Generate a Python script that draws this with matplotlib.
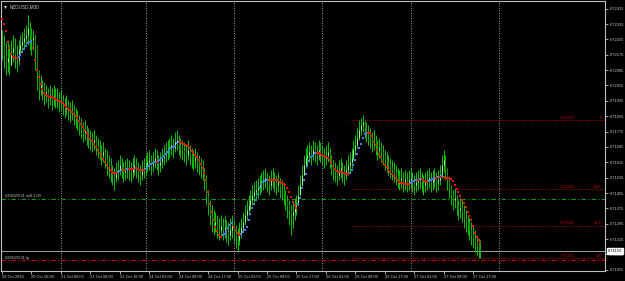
import matplotlib
matplotlib.use("Agg")
import matplotlib.pyplot as plt
import numpy as np

# NZDUSD M30, prices in points above 0.71000
BASE = 0.71
close_pts = [
    1226, 1174, 1137, 1158, 1122, 1189, 1210, 1174, 1148, 1200,
    1226, 1241, 1262, 1278, 1314, 1278, 1252, 1262, 1226, 1096,
    1002, 1017, 991, 965, 981, 950, 965, 939, 960, 939,
    950, 929, 939, 918, 898, 913, 887, 877, 887, 861,
    846, 835, 809, 794, 773, 783, 757, 742, 731, 721,
    731, 705, 690, 679, 653, 669, 638, 617, 601, 575,
    549, 534, 565, 575, 601, 586, 565, 575, 586, 575,
    565, 586, 601, 586, 565, 549, 575, 586, 601, 617,
    627, 601, 617, 638, 627, 601, 617, 638, 653, 669,
    679, 690, 705, 690, 721, 731, 705, 690, 679, 669,
    653, 679, 653, 638, 627, 638, 617, 601, 586, 575,
    523, 445, 393, 341, 315, 289, 305, 274, 263, 284,
    263, 274, 253, 237, 263, 284, 253, 232, 211, 237,
    274, 305, 341, 367, 393, 419, 445, 461, 471, 482,
    497, 513, 523, 534, 513, 497, 523, 534, 513, 497,
    513, 482, 471, 445, 419, 393, 367, 341, 357, 378,
    393, 445, 497, 549, 601, 638, 653, 669, 653, 679,
    669, 653, 679, 669, 653, 638, 653, 669, 638, 601,
    575, 565, 549, 575, 586, 565, 549, 575, 601, 617,
    638, 679, 705, 742, 783, 809, 825, 794, 773, 757,
    742, 721, 731, 705, 679, 690, 669, 653, 627, 617,
    601, 586, 575, 565, 549, 534, 523, 534, 513, 523,
    513, 523, 534, 513, 497, 513, 523, 534, 513, 497,
    513, 523, 534, 513, 523, 534, 513, 523, 549, 601,
    627, 575, 523, 482, 445, 419, 430, 393, 367, 378,
    357, 326, 305, 289, 263, 237, 222, 201, 185, 169, 153,
]
high_pts = [
    1304, 1278, 1241, 1252, 1226, 1252, 1278, 1262, 1226, 1252,
    1278, 1293, 1314, 1330, 1382, 1345, 1314, 1304, 1278, 1226,
    1096, 1070, 1044, 1033, 1017, 1002, 1017, 1002, 1017, 1002,
    1002, 981, 991, 965, 950, 965, 939, 929, 939, 913,
    898, 887, 861, 846, 825, 835, 809, 794, 783, 773,
    783, 757, 742, 731, 705, 721, 690, 679, 653, 638,
    601, 586, 617, 627, 653, 638, 617, 627, 638, 627,
    617, 638, 653, 638, 617, 601, 627, 638, 653, 669,
    679, 653, 669, 690, 679, 653, 669, 690, 705, 721,
    731, 742, 757, 742, 773, 783, 757, 742, 731, 721,
    705, 731, 705, 690, 679, 690, 669, 653, 638, 627,
    586, 549, 471, 419, 393, 367, 357, 341, 326, 341,
    326, 341, 315, 305, 326, 341, 315, 289, 274, 305,
    326, 357, 393, 419, 445, 471, 497, 513, 523, 534,
    549, 565, 575, 586, 565, 549, 575, 586, 565, 549,
    565, 534, 523, 497, 471, 445, 419, 393, 409, 430,
    445, 497, 549, 601, 653, 690, 705, 721, 705, 731,
    721, 705, 731, 721, 705, 690, 705, 721, 690, 653,
    627, 617, 601, 627, 638, 617, 601, 627, 653, 669,
    690, 731, 757, 794, 835, 846, 861, 835, 825, 809,
    794, 773, 783, 757, 731, 742, 721, 705, 679, 669,
    653, 638, 627, 617, 601, 586, 575, 586, 565, 575,
    565, 575, 586, 565, 549, 565, 575, 586, 565, 549,
    565, 575, 586, 565, 575, 586, 565, 575, 601, 653,
    679, 653, 586, 534, 497, 471, 482, 445, 419, 430,
    419, 393, 367, 341, 326, 305, 289, 263, 237, 222, 211,
]
low_pts = [
    1148, 1106, 1070, 1085, 1070, 1122, 1137, 1106, 1085, 1122,
    1174, 1189, 1210, 1226, 1226, 1200, 1174, 1200, 1096, 991,
    939, 965, 939, 913, 929, 898, 913, 887, 908, 898,
    898, 877, 887, 861, 846, 861, 835, 825, 835, 809,
    794, 783, 757, 742, 721, 731, 705, 690, 679, 669,
    679, 653, 638, 627, 601, 617, 586, 549, 534, 513,
    497, 471, 513, 523, 549, 534, 513, 523, 534, 523,
    513, 534, 549, 534, 513, 497, 523, 534, 549, 565,
    575, 549, 565, 586, 575, 549, 565, 586, 601, 617,
    627, 638, 653, 638, 669, 679, 653, 638, 627, 617,
    601, 627, 601, 586, 575, 586, 565, 549, 534, 523,
    471, 393, 341, 289, 253, 237, 253, 222, 211, 232,
    211, 222, 201, 185, 211, 222, 201, 169, 149, 185,
    222, 253, 289, 315, 341, 367, 393, 409, 419, 430,
    445, 461, 471, 482, 461, 445, 471, 482, 461, 445,
    461, 430, 419, 393, 367, 326, 289, 237, 274, 315,
    341, 393, 445, 497, 549, 586, 601, 617, 601, 627,
    617, 601, 627, 617, 601, 586, 601, 617, 586, 549,
    523, 513, 497, 523, 534, 513, 497, 523, 549, 565,
    586, 627, 653, 690, 731, 757, 773, 742, 721, 705,
    690, 669, 679, 653, 627, 638, 617, 601, 575, 565,
    549, 534, 523, 513, 497, 482, 471, 482, 461, 471,
    461, 471, 482, 461, 445, 461, 471, 482, 461, 445,
    461, 471, 482, 461, 471, 482, 461, 471, 497, 534,
    565, 523, 471, 430, 393, 367, 378, 341, 315, 326,
    305, 274, 253, 237, 211, 185, 169, 149, 133, 117, 117,
]
# colored moving average (dots)
ma_pts = [
    1361, 1335, 1299, 1242, 1210, 1179, 1164, 1158, 1158, 1164,
    1174, 1190, 1205, 1221, 1236, 1242, 1247, 1210, 1148, 1096,
    1060, 1023, 997, 976, 966, 961, 956, 956, 950,
    945, 940, 935, 930, 924, 914, 904, 893, 888, 878,
    867, 857, 846, 831, 815, 800, 784, 768, 753, 737,
    727, 711, 696, 680, 664, 649, 633, 618, 602, 586, 576, 566,
    560, 560, 566, 571, 576, 576, 576, 581, 581, 581,
    581, 586, 586, 581, 576, 576, 576, 581, 586, 597,
    607, 612, 618, 618, 623, 628, 638, 649, 659, 670,
    680, 690, 696, 701, 716, 722, 722, 716, 711, 706,
    701, 690, 675, 664, 654, 644, 628, 607, 586, 560,
    524, 462, 399, 358, 316, 280, 259, 238, 228, 238,
    243, 254, 274, 290, 300, 280, 264, 248, 238, 243,
    254, 264, 280, 316, 347, 378, 399, 420, 451, 482,
    503, 514, 519, 524, 524, 524, 524, 524, 524, 524,
    514, 508, 503, 498, 482, 462, 436, 410, 394, 378,
    399, 430, 482, 524, 555, 597, 623, 644, 649, 664,
    664, 664, 659, 654, 649, 644, 638, 628, 612, 597,
    581, 571, 566,
    566, 566, 560, 555, 555, 560, 576, 602, 628, 659,
    690, 711, 742, 763, 768, 768,
    768, 753, 722, 706, 680, 659, 644, 618, 602, 592,
    576, 566, 555, 545, 534, 524, 514, 508, 508, 503, 503,
    503, 508, 514, 519, 524, 524, 529, 529, 524, 519,
    514, 519, 524, 529, 534, 534, 540, 540, 545, 540, 534,
    534, 534, 529, 519, 498, 477, 462, 441, 420, 404,
    384, 358, 337, 316, 285, 248, 228, 212, 196,
]

tick_bars = [0, 16, 32, 48, 64, 80, 96, 112, 128, 144, 160, 176, 192, 208, 224, 240, 256]
tick_labels = ["20 Oct 2016", "20 Oct 16:00", "21 Oct 00:00", "21 Oct 08:00", "21 Oct 16:00",
               "24 Oct 01:00", "24 Oct 09:00", "24 Oct 17:00", "25 Oct 01:00", "25 Oct 09:00",
               "25 Oct 17:00", "26 Oct 01:00", "26 Oct 09:00", "26 Oct 17:00", "27 Oct 01:00",
               "27 Oct 09:00", "27 Oct 17:00"]
day_start_bars = [32, 78, 126, 174, 222, 270]

fib_levels = [0.71833, 0.71474, 0.71284, 0.71115]
fib_texts = ["0.71833", "0.71474", "0.71284", "0.71115"]
fib_tags = ["0", "50.0", "23.6", "100"]
fib_start_bar = 190
order_open = 0.71424
order_tp = 0.71105
bid = 0.71153

cl = BASE + np.array(close_pts) / 1e5
hi = BASE + np.array(high_pts) / 1e5
lo = BASE + np.array(low_pts) / 1e5
ma = BASE + np.array(ma_pts) / 1e5
op = np.r_[cl[0], cl[:-1]]
hi = np.maximum(hi, np.maximum(op, cl))
lo = np.minimum(lo, np.minimum(op, cl))
x = np.arange(len(cl))

fig = plt.figure(figsize=(6.25, 2.81), dpi=100, facecolor="black")
ax = fig.add_axes([1 / 625, 10 / 281, 604 / 625, 270 / 281], facecolor="black")
ax.set_xlim(-0.55, 327.7)
ax.set_ylim(0.71049, 0.72455)

for s in ax.spines.values():
    s.set_color("#c0c0c0")
    s.set_linewidth(0.8)

txt = "#c8c8c8"
fs = 2.9

# day separators
for b in day_start_bars:
    ax.axvline(b, color="#b0b0b0", lw=0.6, ls=(0, (1.2, 1.8)), zorder=1)

# candles
ax.vlines(x, lo, hi, color="#10c010", lw=0.7, zorder=3)
up = cl >= op
ax.vlines(x[up], op[up], cl[up], color="#98f598", lw=0.8, zorder=4)
ax.vlines(x[~up], cl[~up], op[~up], color="#0a8a0a", lw=0.8, zorder=4)

# MA dots, blue when rising, red when falling
rising = np.r_[False, np.diff(ma) > 0]
ax.scatter(x[rising], ma[rising], s=1.6, marker="s", color="#4a7df0", lw=0, zorder=5)
ax.scatter(x[~rising], ma[~rising], s=1.6, marker="s", color="#f01010", lw=0, zorder=5)

# fibo
for lev, t, tag in zip(fib_levels, fib_texts, fib_tags):
    ax.plot([fib_start_bar, 327.7], [lev, lev], color="#c00000", lw=0.6, ls=(0, (1, 1.2)), zorder=2)
    ax.text(311, lev + 0.00002, t, color="#c00000", fontsize=fs, ha="right", va="bottom",
            family="Liberation Sans")
    ax.text(326, lev + 0.00002, tag, color="#c00000", fontsize=fs, ha="right", va="bottom",
            family="Liberation Sans")
ax.plot([fib_start_bar, fib_start_bar + 4.5], [fib_levels[0], fib_levels[0] - 0.00058],
        color="#c00000", lw=0.6, ls=(0, (1, 1.2)), zorder=2)

# order lines
ax.axhline(order_open, color="#0a9a0a", lw=0.8, ls=(0, (4, 2, 1, 2)), zorder=2)
ax.text(1.5, order_open + 0.00003, "#99155531 sell 1.00", color=txt, fontsize=fs,
        va="bottom", family="Liberation Sans")
ax.axhline(order_tp, color="#d00000", lw=0.8, ls=(0, (4, 2, 1, 2)), zorder=2)
ax.text(1.5, order_tp + 0.00003, "#99155531 tp", color=txt, fontsize=fs,
        va="bottom", family="Liberation Sans")
ax.axhline(bid, color="#a0a0a0", lw=0.7, zorder=2)

# title
ax.text(4, 0.72425, "NZDUSD,M30", color=txt, fontsize=3.3, va="center", family="Liberation Sans")
ax.plot([1.5], [0.72425], marker="v", color=txt, ms=2.2, mew=0)

# axes ticks
ax.yaxis.tick_right()
yt = np.round(np.arange(0.71055, 0.72416, 0.0008), 5)
ax.set_yticks(yt)
ax.set_yticklabels([f"{v:.5f}" for v in yt])
ax.tick_params(axis="y", colors="#c0c0c0", labelsize=fs, length=2, width=0.6, pad=1.5,
               labelcolor=txt)
ax.set_xticks(tick_bars)
ax.set_xticklabels(tick_labels, ha="left")
ax.tick_params(axis="x", colors="#c0c0c0", labelsize=fs, length=2, width=0.6, pad=1,
               labelcolor=txt)
for lab in ax.get_xticklabels() + ax.get_yticklabels():
    lab.set_family("Liberation Sans")

# bid price box
ax.text(329.5, bid, f"{bid:.5f}", transform=ax.transData, color="black", fontsize=fs,
        va="center", ha="left", family="Liberation Sans", clip_on=False,
        bbox=dict(boxstyle="square,pad=0.25", fc="white", ec="white"), zorder=6)

fig.savefig("out.png", dpi=100, facecolor="black")
